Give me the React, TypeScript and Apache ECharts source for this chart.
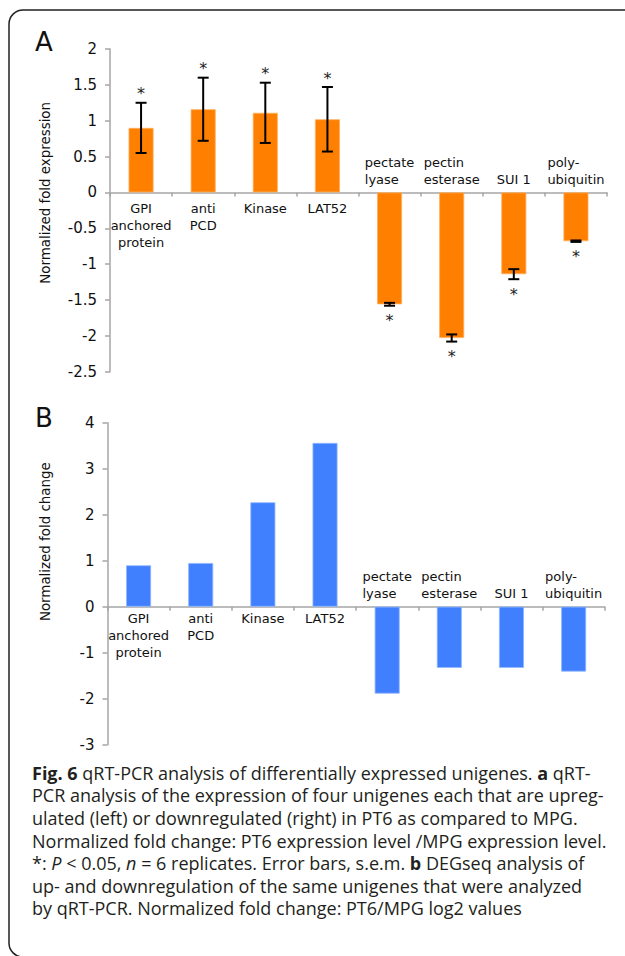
import React, { useEffect, useRef } from "react";
import * as echarts from "echarts";

const categories = [
  "GPI\nanchored\nprotein",
  "anti\nPCD",
  "Kinase",
  "LAT52",
  "pectate\nlyase",
  "pectin\nesterase",
  "SUI 1",
  "poly-\nubiquitin",
];
const qpcrValues = [0.9, 1.16, 1.11, 1.02, -1.56, -2.03, -1.14, -0.68];
const qpcrErrors = [0.35, 0.44, 0.42, 0.45, 0.02, 0.05, 0.07, 0.01];
const qpcrSignificant = [true, true, true, true, true, true, true, true];
const degseqValues = [0.9, 0.95, 2.27, 3.56, -1.89, -1.33, -1.33, -1.41];

const yAxisA = { min: -2.5, max: 2, interval: 0.5, name: "Normalized fold expression" };
const yAxisB = { min: -3, max: 4, interval: 1, name: "Normalized fold change" };

const captionLines = [
  "{b|Fig. 6} qRT-PCR analysis of differentially expressed unigenes. {b|a} qRT-",
  "PCR analysis of the expression of four unigenes each that are upreg-",
  "ulated (left) or downregulated (right) in PT6 as compared to MPG.",
  "Normalized fold change: PT6 expression level /MPG expression level.",
  "*: {i|P} < 0.05, {i|n} = 6 replicates. Error bars, s.e.m. {b|b} DEGseq analysis of",
  "up- and downregulation of the same unigenes that were analyzed",
  "by qRT-PCR. Normalized fold change: PT6/MPG log2 values",
];

const FONT = "DejaVu Sans";
const CAP_FONT = "Open Sans";
const CAP_SIZE = 18;
const AXIS_GREY = "#A6A6A6";

const gridA = { left: 110, top: 49, width: 497, height: 322.7 };
const gridB = { left: 107.5, top: 422.7, width: 497.2, height: 322 };

const labelText = { fontFamily: FONT, fontSize: 13, lineHeight: 17, color: "#111" };

function zeroOffset(cfg: any, grid: any) {
  return -((0 - cfg.min) / (cfg.max - cfg.min)) * grid.height;
}

function mainXAxis(gridIndex: number, values: number[], offset: number, margin: number) {
  return {
    type: "category",
    gridIndex,
    data: categories,
    position: "bottom",
    offset,
    axisLine: { show: true, onZero: false, lineStyle: { color: AXIS_GREY, width: 1.5 } },
    axisTick: { show: true, length: 4, lineStyle: { color: AXIS_GREY, width: 1.5 } },
    axisLabel: {
      margin,
      interval: 0,
      ...labelText,
      formatter: (v: string, i: number) => (values[i] < 0 ? "" : v),
    },
    splitLine: { show: false },
  };
}

function insideXAxis(gridIndex: number, values: number[], offset: number, margin: number) {
  return {
    type: "category",
    gridIndex,
    data: categories,
    position: "bottom",
    offset,
    axisLine: { show: false, onZero: false },
    axisTick: { show: false },
    axisLabel: {
      inside: true,
      margin,
      interval: 0,
      ...labelText,
      rich: { l: { ...labelText, align: "left" } },
      formatter: (v: string, i: number) =>
        values[i] < 0
          ? v
              .split("\n")
              .map((s) => `{l|${s}}`)
              .join("\n")
          : "",
    },
    splitLine: { show: false },
  };
}

function valueAxis(gridIndex: number, cfg: any, nameGap: number, shift: number) {
  return {
    type: "value",
    gridIndex,
    min: cfg.min,
    max: cfg.max,
    interval: cfg.interval,
    name: cfg.name,
    nameLocation: "middle",
    nameGap,
    nameTextStyle: { fontFamily: FONT, fontSize: 13.4, color: "#111", padding: [0, 0, 0, shift] },
    axisLine: { show: true, onZero: false, lineStyle: { color: AXIS_GREY, width: 1.5 } },
    axisTick: { show: true, inside: false, length: 5, lineStyle: { color: AXIS_GREY, width: 1.5 } },
    axisLabel: { fontFamily: FONT, fontSize: 15, color: "#111", margin: 13 },
    splitLine: { show: false },
  };
}

export default function App() {
  const ref = useRef<HTMLDivElement>(null);
  useEffect(() => {
    document.body.style.margin = "0";
    const chart = echarts.init(ref.current!, null, { renderer: "svg" });
    const errData = qpcrValues.map((v, i) => [i, v - qpcrErrors[i], v + qpcrErrors[i], v, qpcrSignificant[i] ? 1 : 0]);
    const offA = zeroOffset(yAxisA, gridA);
    const offB = zeroOffset(yAxisB, gridB);
    const option: any = {
      animation: false,
      backgroundColor: "#fff",
      grid: [gridA, gridB],
      xAxis: [
        mainXAxis(0, qpcrValues, offA, 7.5),
        insideXAxis(0, qpcrValues, offA, 4),
        mainXAxis(1, degseqValues, offB, 3),
        insideXAxis(1, degseqValues, offB, 5),
      ],
      yAxis: [valueAxis(0, yAxisA, 58, 35), valueAxis(1, yAxisB, 56, 84)],
      series: [
        {
          type: "bar",
          xAxisIndex: 0,
          yAxisIndex: 0,
          data: qpcrValues,
          barWidth: 25,
          itemStyle: { color: "#FF8000", borderColor: "#FFB060", borderWidth: 0.8 },
        },
        {
          type: "custom",
          xAxisIndex: 0,
          yAxisIndex: 0,
          data: errData,
          z: 10,
          renderItem: (params: any, api: any) => {
            const x = api.value(0);
            const lo = api.coord([x, api.value(1)]);
            const hi = api.coord([x, api.value(2)]);
            const v = api.value(3);
            const sig = api.value(4);
            const cap = 5.5;
            const ls = { stroke: "#000", lineWidth: 2 };
            const children: any[] = [
              { type: "line", shape: { x1: lo[0], y1: lo[1], x2: hi[0], y2: hi[1] }, style: ls },
              { type: "line", shape: { x1: lo[0] - cap, y1: lo[1], x2: lo[0] + cap, y2: lo[1] }, style: ls },
              { type: "line", shape: { x1: hi[0] - cap, y1: hi[1], x2: hi[0] + cap, y2: hi[1] }, style: ls },
            ];
            if (sig) {
              const y = v >= 0 ? hi[1] - 9 : lo[1] + 15;
              children.push({
                type: "text",
                style: {
                  text: "*",
                  x: hi[0],
                  y,
                  align: "center",
                  verticalAlign: "middle",
                  fontFamily: FONT,
                  fontSize: 16,
                  fill: "#222",
                },
              });
            }
            return { type: "group", children };
          },
        },
        {
          type: "bar",
          xAxisIndex: 2,
          yAxisIndex: 1,
          data: degseqValues,
          barWidth: 25,
          itemStyle: { color: "#4080FF", borderColor: "#90B8FF", borderWidth: 0.8 },
        },
      ],
      graphic: [
        {
          type: "rect",
          shape: { x: 9, y: 10, width: 700, height: 947, r: 14 },
          style: { fill: "none", stroke: "#222", lineWidth: 1.5 },
          z: 100,
        },
        {
          type: "text",
          x: 35,
          y: 42,
          style: { text: "A", fontFamily: FONT, fontSize: 26, fill: "#111", verticalAlign: "middle" },
        },
        {
          type: "text",
          x: 35,
          y: 418,
          style: { text: "B", fontFamily: FONT, fontSize: 26, fill: "#111", verticalAlign: "middle" },
        },
        ...captionLines.map((t, k) => ({
          type: "text",
          x: 32,
          y: 772.7 + 22.6 * k,
          style: {
            text: t,
            fontFamily: CAP_FONT,
            fontSize: CAP_SIZE,
            fill: "#231f20",
            verticalAlign: "middle",
            rich: {
              b: { fontFamily: CAP_FONT, fontSize: CAP_SIZE, fontWeight: "bold", fill: "#231f20" },
              i: { fontFamily: CAP_FONT, fontSize: CAP_SIZE, fontStyle: "italic", fill: "#231f20" },
            },
          },
        })),
      ],
    };
    chart.setOption(option);
    return () => chart.dispose();
  }, []);
  return <div ref={ref} style={{ width: 625, height: 956 }} />;
}
